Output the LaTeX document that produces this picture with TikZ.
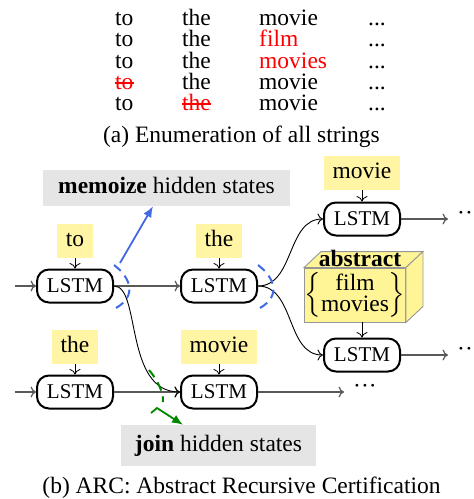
\documentclass[tikz,border=0pt]{standalone}
\usepackage{fontspec}
\setmainfont{Liberation Serif}
\usepackage{amsmath}
\usetikzlibrary{arrows.meta}

\definecolor{wordbg}{RGB}{255,245,165}
\definecolor{notebg}{RGB}{229,229,229}
\definecolor{memoblue}{RGB}{65,105,225}
\definecolor{joingreen}{RGB}{0,135,0}
\definecolor{absfill}{RGB}{255,245,150}
\definecolor{absedge}{RGB}{150,150,150}

\begin{document}
\begin{tikzpicture}[x=1pt, y=-1pt,
    every node/.style={font=\fontsize{23.5}{28}\selectfont},
    >={To[length=5.5pt,width=11pt]},
    tok/.style={anchor=base west, inner sep=0pt},
    lstm/.style={draw, line width=2pt, rounded corners=12pt, minimum width=76pt,
      minimum height=33pt, inner sep=0pt, font=\fontsize{21}{24}\selectfont},
    word/.style={fill=wordbg, inner xsep=9pt, inner ysep=6.5pt, text height=16pt, text depth=5pt},
    note/.style={fill=notebg, inner sep=0pt, text height=16pt, text depth=5pt},
    flow/.style={->, black!65, line width=1.2pt},
    feed/.style={->, line width=0.8pt},
    curve/.style={->, line width=0.9pt},
    cut/.style={dash pattern=on 9pt off 6pt, line width=2pt},
    face/.style={draw=absedge, fill=absfill, line width=0.9pt},
    more/.style={inner sep=0pt}
  ]
		\useasboundingbox (0,0) rectangle (474,499);

		% (a) enumeration
		\node[tok] (s11) at (115,25) {to};
		\node[tok] (s12) at (182,25) {the};
		\node[tok] (s13) at (259,25) {movie};
		\node[tok] (s14) at (368,25) {...};

		\node[tok] (s21) at (115,46.5) {to};
		\node[tok] (s22) at (182,46.5) {the};
		\node[tok,text=red] (s23) at (259,46.5) {film};
		\node[tok] (s24) at (368,46.5) {...};

		\node[tok] (s31) at (115,68) {to};
		\node[tok] (s32) at (182,68) {the};
		\node[tok,text=red] (s33) at (259,68) {movies};
		\node[tok] (s34) at (368,68) {...};

		\node[tok,text=red] (s41) at (115,89) {to};
		\node[tok] (s42) at (182,89) {the};
		\node[tok] (s43) at (259,89) {movie};
		\node[tok] (s44) at (368,89) {...};

		\node[tok] (s51) at (115,110) {to};
		\node[tok,text=red] (s52) at (182,110) {the};
		\node[tok] (s53) at (259,110) {movie};
		\node[tok] (s54) at (368,110) {...};

		\draw[red, line width=1.2pt] ([yshift=6pt]s41.base west) -- ([yshift=6pt]s41.base east);
		\draw[red, line width=1.2pt] ([yshift=6pt]s52.base west) -- ([yshift=6pt]s52.base east);

		\node[anchor=base] (capA) at (241.5,142) {(a) Enumeration of all strings};

		% (b) ARC
		\node[note, minimum width=247pt, minimum height=36pt] (memo) at (166.5,188) {\textbf{memoize} hidden states};
		\node[note, minimum width=195pt, minimum height=41pt] (join) at (218.5,445.5) {\textbf{join} hidden states};

		\node[word] (wTo) at (75,241) {to};
		\node[word] (wThe) at (219,241) {the};
		\node[word] (wMovie) at (362,173) {movie};
		\node[word] (wThe2) at (75,347) {the};
		\node[word] (wMovie2) at (219,347) {movie};

		\node[lstm] (l11) at (75,286) {LSTM};
		\node[lstm] (l12) at (219,286) {LSTM};
		\node[lstm] (l13a) at (362,219) {LSTM};
		\node[lstm] (l13b) at (362,355) {LSTM};
		\node[lstm] (l21) at (75,392) {LSTM};
		\node[lstm] (l22) at (219,392) {LSTM};

		\node[face, minimum width=99pt, minimum height=54pt, inner sep=0pt] (absBox) at (355,295)
			{$\left\{\renewcommand{\arraystretch}{0.6}\begin{array}{@{}c@{}}\text{film}\\\text{movies}\end{array}\right\}$};
		\filldraw[face] (absBox.north west) -- ([shift={(17,-16)}]absBox.north west)
			-- ([shift={(17,-16)}]absBox.north east) -- (absBox.north east) -- cycle;
		\filldraw[face] (absBox.north east) -- ([shift={(17,-16)}]absBox.north east)
			-- ([shift={(17,-16)}]absBox.south east) -- (absBox.south east) -- cycle;
		\node[anchor=base] (absLabel) at (360,266) {\textbf{abstract}};

		\node[more, anchor=west] (dotsA) at (457,216) {\textperiodcentered\textperiodcentered\textperiodcentered};
		\node[more, anchor=west] (dotsB) at (457,352) {\textperiodcentered\textperiodcentered\textperiodcentered};
		\node[more, anchor=west] (dotsC) at (353,389) {\textperiodcentered\textperiodcentered\textperiodcentered};
		\coordinate (in1) at (15,286);
		\coordinate (in2) at (15,392);

		\draw[feed] (wTo) -- (l11);
		\draw[feed] (wThe) -- (l12);
		\draw[feed] (wMovie) -- (l13a);
		\draw[feed] (wThe2) -- (l21);
		\draw[feed] (wMovie2) -- (l22);
		\draw[feed] (absBox.south -| l13b.north) -- (l13b.north);

		\draw[flow] (in1) -- (l11);
		\draw[flow] (l11) -- (l12);
		\draw[flow] (l13a) -- ([xshift=-9pt]dotsA.west |- l13a);
		\draw[flow] (l13b) -- ([xshift=-9pt]dotsB.west |- l13b);
		\draw[flow] (in2) -- (l21);
		\draw[flow] (l21) -- (l22);
		\draw[flow] (l22) -- ([xshift=-9pt]dotsC.west |- l22);

		\draw[curve] (l11.east) .. controls +(27,0) and +(-56,0) .. (l22.west);
		\draw[curve] (l12.east) to[out=0,in=180] (l13a.west);
		\draw[curve] (l12.east) to[out=0,in=180] (l13b.west);

		% memoize / join markers
		\draw[cut, memoblue] ([shift={(0,-21)}]l11.east) .. controls +(17,13) and +(21,-12) .. ([shift={(2,22)}]l11.east);
		\draw[cut, memoblue] ([shift={(0,-21)}]l12.east) .. controls +(17,13) and +(21,-12) .. ([shift={(2,22)}]l12.east);
		\draw[-{Latex[length=11pt,width=9pt]}, memoblue, line width=1.8pt]
			([shift={(6,-23)}]l11.east) -- ([xshift=-13.5pt]memo.south);

		\draw[cut, joingreen] ([shift={(-31,-22)}]l22.west) .. controls +(7,8) and +(1,-10) .. ([shift={(-17,10)}]l22.west);
		\draw[-{Latex[length=11pt,width=9pt]}, joingreen, line width=1.8pt]
			([shift={(-29,21)}]l22.west) -- ([shift={(-23,16)}]l22.west) -- ([xshift=-35.5pt]join.north);

		\node[anchor=base] (capB) at (241.5,493) {(b) ARC: Abstract Recursive Certification};
	\end{tikzpicture}
\end{document}
